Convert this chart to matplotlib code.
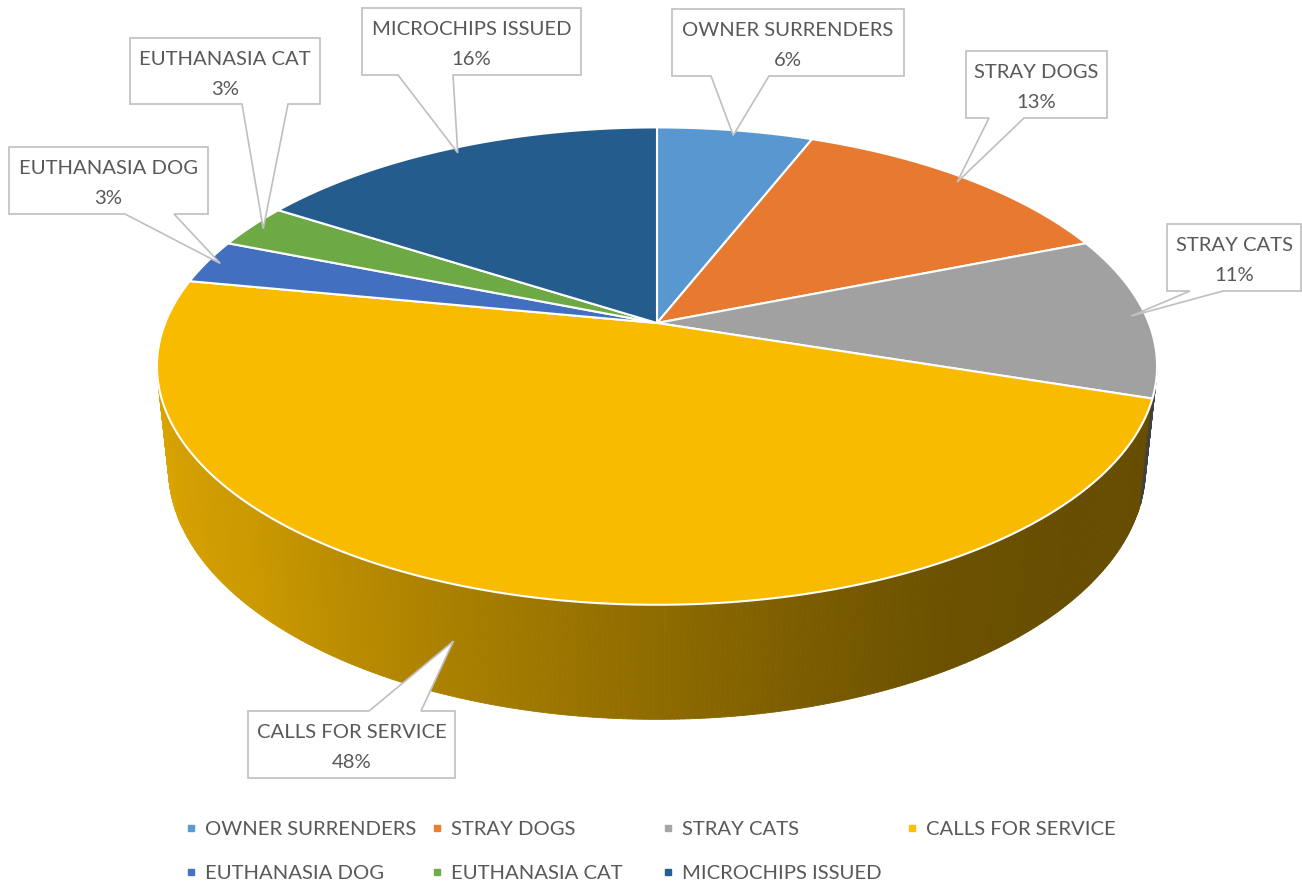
import numpy as np
import matplotlib
matplotlib.use('Agg')
import matplotlib.pyplot as plt
from matplotlib.patches import Polygon
from matplotlib.collections import PolyCollection

categories = ['OWNER SURRENDERS', 'STRAY DOGS', 'STRAY CATS', 'CALLS FOR SERVICE',
              'EUTHANASIA DOG', 'EUTHANASIA CAT', 'MICROCHIPS ISSUED']
shares = [6, 13, 11, 48, 3, 3, 16]
colors = ['#5B9BD5', '#ED7D31', '#A5A5A5', '#FFC000', '#4472C4', '#70AD47', '#255E91']

# callout boxes (pixels): x0, y0, x1, y1, pointer base from/to, pointer side
boxes = [
    (672, 9, 904, 76, 711, 769, 'bottom'),
    (966, 51, 1107, 118, 989, 1024, 'bottom'),
    (1167, 224, 1301, 291, 1190, 1223, 'bottom'),
    (248, 711, 455, 778, 369, 421, 'top'),
    (9, 147, 208, 214, 125, 174, 'bottom'),
    (130, 38, 320, 104, 242, 288, 'bottom'),
    (362, 8, 581, 75, 398, 453, 'bottom'),
]

# perspective setup for the 3d pie
cx, cy = 657, 323
F, D = 2405.0, 4.89
phi = np.radians(28)
sp, cp = np.sin(phi), np.cos(phi)
T = 0.237
FONT = 'Lato'
FS = 14.6
TXT = '#595959'


def proj(theta, r, h):
    th = np.radians(theta)
    u = r * np.cos(th)
    w = r * np.sin(th)
    Y = w * sp + h * cp
    Z = D + w * cp - h * sp
    return cx + F * u / Z, cy - F * Y / Z


def shade(theta):
    a = -theta  # 10 (right) .. 170 (left)
    xa = [0, 40, 60, 75, 90, 115, 135, 160, 180]
    fa = [0.40, 0.40, 0.42, 0.48, 0.56, 0.69, 0.79, 0.85, 0.86]
    return np.interp(a, xa, fa)


fig = plt.figure(figsize=(13.02, 8.86), dpi=100)
ax = fig.add_axes([0, 0, 1, 1])
ax.set_xlim(0, 1302)
ax.set_ylim(886, 0)
ax.axis('off')

total = float(sum(shares))
bounds = 90 - 360 * np.concatenate([[0], np.cumsum(shares)]) / total
vis_lo, vis_hi = -169.6, -10.4

# side walls (only the front half can be seen)
for i, c in enumerate(colors):
    a0, a1 = bounds[i + 1], bounds[i]
    lo, hi = max(a0, vis_lo), min(a1, vis_hi)
    if hi <= lo:
        continue
    ts = np.linspace(lo, hi, int((hi - lo) * 2) + 2)
    rgb = np.array(matplotlib.colors.to_rgb(c))
    polys, fcs = [], []
    for t0, t1 in zip(ts[:-1], ts[1:]):
        p = [proj(t0, 1, 0), proj(t1, 1, 0), proj(t1, 1, -T), proj(t0, 1, -T)]
        polys.append(p)
        fcs.append(tuple(rgb * shade((t0 + t1) / 2)))
    ax.add_collection(PolyCollection(polys, facecolors=fcs, edgecolors=fcs,
                                     linewidths=0.6, zorder=1))
    if hi - lo < 15:
        # thin slice edge seen almost side-on
        ex = [proj(lo, 1, 0)[0], proj(lo, 1, -T)[0]]
        ey = [proj(lo, 1, 0)[1], proj(lo, 1, -T)[1]]
        ax.plot(ex, ey, color='#404040', lw=1.2, zorder=1.5)

# top faces
for i, c in enumerate(colors):
    a0, a1 = bounds[i + 1], bounds[i]
    ts = np.linspace(a1, a0, 200)
    pts = [proj(0, 0, 0)] + [proj(t, 1, 0) for t in ts]
    rgb = np.array(matplotlib.colors.to_rgb(c)) * 0.975
    ax.add_patch(Polygon(pts, closed=True, facecolor=tuple(rgb), edgecolor='white',
                         linewidth=1.5, joinstyle='round', zorder=2))

# callouts
for i, (name, v) in enumerate(zip(categories, shares)):
    x0, y0, x1, y1, b1, b2, side = boxes[i]
    mid = (bounds[i] + bounds[i + 1]) / 2
    if side == 'top':
        px, py = proj(mid - 6, 1, -T / 2)
        pts = [(x0, y0), (b1, y0), (px, py), (b2, y0), (x1, y0), (x1, y1), (x0, y1)]
    else:
        px, py = proj(mid, 0.97, 0)
        pts = [(x0, y0), (x1, y0), (x1, y1), (b2, y1), (px, py), (b1, y1), (x0, y1)]
    ax.add_patch(Polygon(pts, closed=True, facecolor='white', edgecolor='#BFBFBF',
                         linewidth=1.2, zorder=3))
    xm = (x0 + x1) / 2
    pct = '%d%%' % round(100 * v / total)
    ax.text(xm, y0 + 27, name, ha='center', va='baseline', fontsize=FS,
            family=FONT, color=TXT, zorder=4)
    ax.text(xm, y0 + 57, pct, ha='center', va='baseline', fontsize=FS,
            family=FONT, color=TXT, zorder=4)

# legend
leg_x = [191, 437, 668, 912, 191, 437, 668]
leg_y = [828, 828, 828, 828, 872, 872, 872]
for name, c, lx, ly in zip(categories, colors, leg_x, leg_y):
    ax.plot([lx], [ly], marker='s', markersize=5, color=c, linestyle='none')
    ax.text(lx + 14, ly + 7, name, ha='left', va='baseline', fontsize=FS,
            family=FONT, color=TXT)

fig.savefig('out.png', dpi=100)
